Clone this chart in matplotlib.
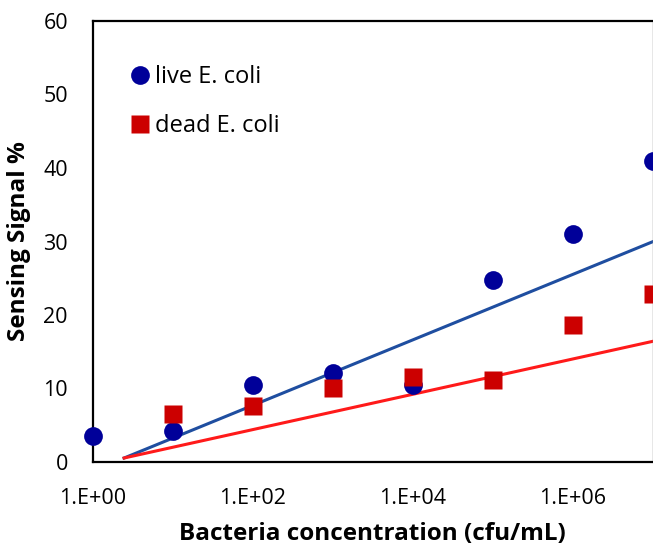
import numpy as np
import matplotlib
matplotlib.use("Agg")
import matplotlib.pyplot as plt
from matplotlib.ticker import FixedLocator, FuncFormatter, NullLocator

# ---- data ----
concentration = [1e0, 1e1, 1e2, 1e3, 1e4, 1e5, 1e6, 1e7]
live_signal = [3.5, 4.2, 10.5, 12.1, 10.5, 24.7, 31.0, 41.0]
dead_conc = [1e1, 1e2, 1e3, 1e4, 1e5, 1e6, 1e7]
dead_signal = [6.5, 7.6, 10.1, 11.5, 11.2, 18.7, 22.8]
# trend lines: y = slope * log10(x) + intercept
live_trend = (4.45, -1.19)
dead_trend = (2.40, -0.39)
trend_range = [2.45, 1e7]
xtick_values = [1e0, 1e2, 1e4, 1e6]
ytick_values = [0, 10, 20, 30, 40, 50, 60]

plt.rcParams['font.family'] = ['Open Sans', 'DejaVu Sans']

fig = plt.figure(figsize=(6.53, 5.48), dpi=100)
W, H = 653, 548
left, right, bottom_px, top_px = 93, 652.5, 462, 21
ax = fig.add_axes([left / W, (H - bottom_px) / H, (right - left) / W, (bottom_px - top_px) / H])

ax.set_xscale('log')
ax.set_xlim(1e0, 1e7)
ax.set_ylim(0, 60)

tx = np.logspace(np.log10(trend_range[0]), np.log10(trend_range[1]), 50)
ax.plot(tx, live_trend[0] * np.log10(tx) + live_trend[1], color='#1F4EA0', lw=2.2, zorder=2)
ax.plot(tx, dead_trend[0] * np.log10(tx) + dead_trend[1], color='#FF1A1A', lw=2.2, zorder=2)

ax.plot(concentration, live_signal, 'o', color='#000099', ms=13.5, mec='none',
        label='live E. coli', zorder=3, clip_on=False)
ax.plot(dead_conc, dead_signal, 's', color='#CC0000', ms=13.5, mec='none',
        label='dead E. coli', zorder=3, clip_on=False)

ax.xaxis.set_major_locator(FixedLocator(xtick_values))
ax.xaxis.set_minor_locator(NullLocator())
ax.xaxis.set_major_formatter(FuncFormatter(lambda v, p: "1.E+%02d" % int(round(np.log10(v)))))
ax.set_yticks(ytick_values)
ax.tick_params(axis='both', length=0, labelsize=15.5, colors='black')
ax.tick_params(axis='y', pad=18)
ax.tick_params(axis='x', pad=19)

for s in ['left', 'bottom', 'top']:
    ax.spines[s].set_linewidth(1.6)
    ax.spines[s].set_color('black')
ax.spines['right'].set_linewidth(1.0)
ax.spines['right'].set_color('#888888')

label_font = dict(fontsize=17.5, fontweight='bold')
ax.set_xlabel('Bacteria concentration (cfu/mL)', labelpad=9, **label_font)
ax.set_ylabel('Sensing Signal %', labelpad=9, **label_font)

leg = ax.legend(loc='upper left', bbox_to_anchor=(0.049, 0.921), frameon=False,
                fontsize=17, labelspacing=1.05, handlelength=0.9, handletextpad=0.15,
                borderpad=0.4, borderaxespad=0)

fig.savefig('out.png', dpi=100)
